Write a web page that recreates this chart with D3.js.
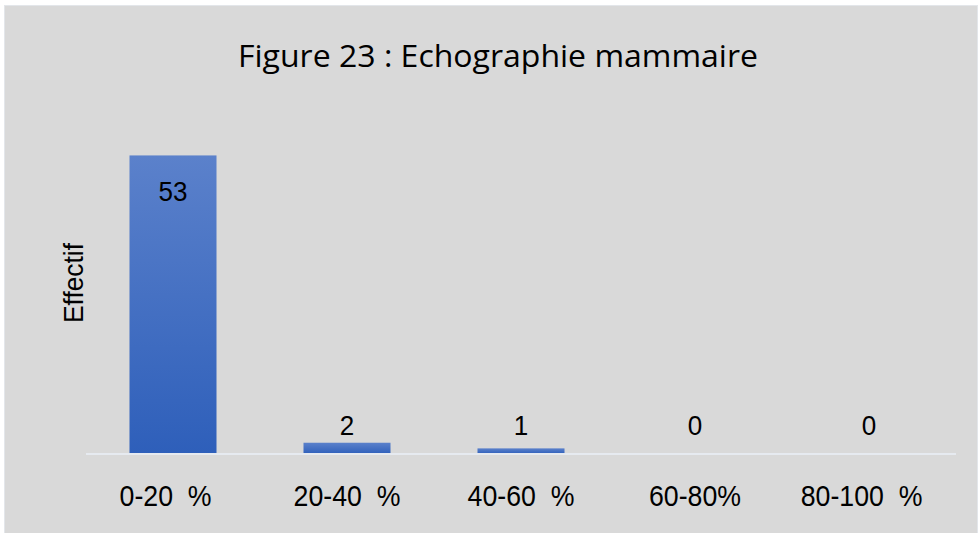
<!DOCTYPE html>
<html><head><meta charset="utf-8">
<script src="https://cdn.jsdelivr.net/npm/d3@7"></script>
<style>html,body{margin:0;padding:0;background:#fff;}svg{display:block;}</style>
</head><body>
<script>
const categories = ["0-20  %  ", "20-40  %", "40-60  %", "60-80%", "80-100  %  "];
const values = [53, 2, 1, 0, 0];
const titleText = "Figure 23 : Echographie mammaire";
const yLabel = "Effectif";

const W = 979, H = 533;
const svg = d3.select("body").append("svg").attr("width", W).attr("height", H);

const defs = svg.append("defs");
const grad = defs.append("linearGradient").attr("id", "barGrad")
  .attr("x1", 0).attr("y1", 0).attr("x2", 0).attr("y2", 1);
grad.append("stop").attr("offset", "0%").attr("stop-color", "#5b81cb");
grad.append("stop").attr("offset", "100%").attr("stop-color", "#2e5fba");

svg.append("rect").attr("x", 4.5).attr("y", 5.5).attr("width", 973).attr("height", 528)
  .attr("fill", "#d9d9d9").attr("stroke", "#e3e6ea").attr("stroke-width", 1);

const x = d3.scaleBand().domain(categories).range([86, 956]).paddingInner(0.5).paddingOuter(0.25);
const y = d3.scaleLinear().domain([0, 60]).range([454, 116]);

function squeeze(sel, k) {
  sel.each(function () {
    const w = this.getComputedTextLength();
    d3.select(this).attr("textLength", w * k).attr("lengthAdjust", "spacingAndGlyphs");
  });
}

svg.append("text").attr("x", 498).attr("y", 67).attr("text-anchor", "middle")
  .attr("font-family", "'Open Sans', sans-serif").attr("font-size", 31).attr("fill", "#000")
  .attr("textLength", 520).attr("lengthAdjust", "spacingAndGlyphs")
  .text(titleText);

svg.selectAll("rect.bar").data(values).enter().append("rect").attr("class", "bar")
  .attr("x", (d, i) => x(categories[i]))
  .attr("width", x.bandwidth())
  .attr("y", d => y(d))
  .attr("height", d => y(0) - y(d))
  .attr("fill", "url(#barGrad)");

svg.append("line").attr("x1", 86).attr("x2", 956).attr("y1", y(0)).attr("y2", y(0))
  .attr("stroke", "#e6eaf0").attr("stroke-width", 2);

const vals = svg.selectAll("text.val").data(values).enter().append("text").attr("class", "val")
  .attr("x", (d, i) => x(categories[i]) + x.bandwidth() / 2)
  .attr("y", d => d > 10 ? y(d) + 46 : 435)
  .attr("text-anchor", "middle")
  .attr("font-family", "'Liberation Sans', Arial, sans-serif").attr("font-size", 28).attr("fill", "#000")
  .text(d => d);
squeeze(vals, 0.93);

const xAxis = svg.append("g").attr("transform", `translate(0,${y(0)})`)
  .call(d3.axisBottom(x).tickSize(0).tickPadding(0));
xAxis.select(".domain").remove();
const ticks = xAxis.selectAll("text").attr("y", 52).attr("dy", null)
  .attr("font-family", "'Liberation Sans', Arial, sans-serif").attr("font-size", 30).attr("fill", "#000")
  .style("white-space", "pre").attr("xml:space", "preserve");
squeeze(ticks, 0.89);

const yl = svg.append("text").attr("transform", "translate(83,283) rotate(-90)")
  .attr("text-anchor", "middle")
  .attr("font-family", "'Liberation Sans', Arial, sans-serif").attr("font-size", 28).attr("fill", "#000")
  .text(yLabel);
squeeze(yl, 0.94);
</script>
</body></html>
